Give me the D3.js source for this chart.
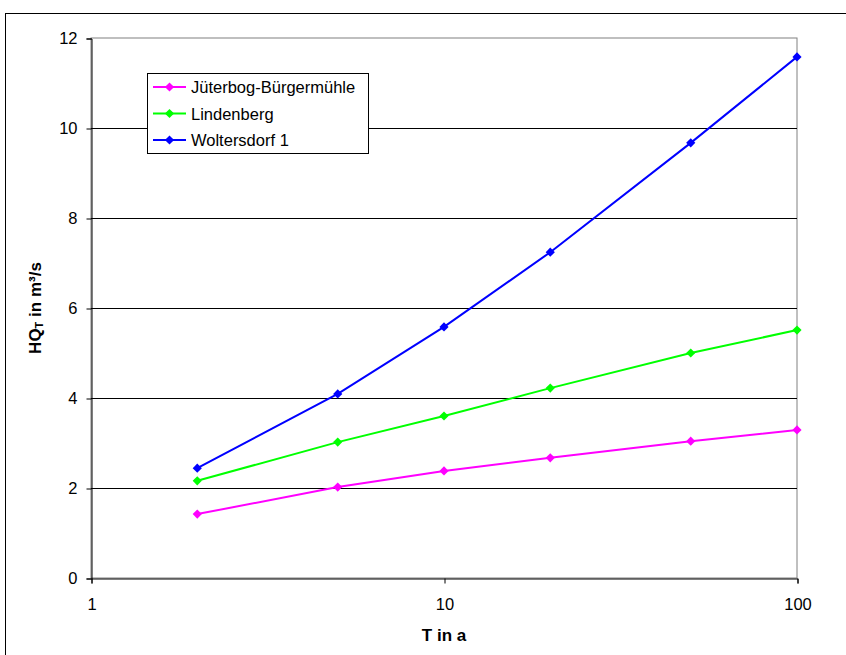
<!DOCTYPE html>
<html><head><meta charset="utf-8">
<script src="https://cdn.jsdelivr.net/npm/d3@7"></script>
<style>body{margin:0;background:#fff}svg{display:block;font-family:"Liberation Sans",Arial,sans-serif}</style>
</head><body><svg id="c" width="846" height="655"></svg>
<script>
const periods = [2, 5, 10, 20, 50, 100];
const jueterbog = [1.42, 2.02, 2.38, 2.67, 3.04, 3.29];
const lindenberg = [2.16, 3.02, 3.60, 4.22, 5.00, 5.51];
const woltersdorf = [2.44, 4.09, 5.58, 7.24, 9.67, 11.58];
const seriesNames = ["Jüterbog-Bürgermühle", "Lindenberg", "Woltersdorf 1"];
const seriesColors = ["#ff00ff", "#00ff00", "#0000ff"];
const xTicks = [1, 10, 100];
const yTicks = [0, 2, 4, 6, 8, 10, 12];

const svg = d3.select("#c");
const L = 91, R = 797, T = 38, B = 578;
const x = d3.scaleLog().domain([1, 100]).range([L, R]);
const y = d3.scaleLinear().domain([0, 12]).range([B, T]);

// outer frame
svg.append("rect").attr("x", 5.5).attr("y", 13.5).attr("width", 900).attr("height", 700)
  .attr("fill", "none").attr("stroke", "#000").attr("stroke-width", 1);

// plot border (gray)
svg.append("rect").attr("x", L).attr("y", T).attr("width", R - L).attr("height", B - T)
  .attr("fill", "none").attr("stroke", "#808080").attr("stroke-width", 1);

// gridlines
svg.append("g").selectAll("line").data(yTicks.filter(d => d > 0 && d < 12)).join("line")
  .attr("x1", L).attr("x2", R).attr("y1", d => Math.round(y(d)) + 0.5).attr("y2", d => Math.round(y(d)) + 0.5)
  .attr("stroke", "#000").attr("stroke-width", 1);

// y axis
const yAxis = svg.append("g").attr("transform", `translate(${L + 0.5},0.5)`)
  .call(d3.axisLeft(y).tickValues(yTicks).tickSize(5).tickPadding(9).tickFormat(d3.format("d")));
yAxis.select(".domain").attr("stroke", "#000");
yAxis.selectAll("text").attr("font-size", 16.5).attr("fill", "#000").attr("font-family", "Liberation Sans, Arial, sans-serif");

// x axis
const xAxis = svg.append("g").attr("transform", `translate(0.5,${B + 0.5})`)
  .call(d3.axisBottom(x).tickValues(xTicks).tickSize(5).tickPadding(15).tickFormat(d3.format("d")));
xAxis.select(".domain").attr("stroke", "#000");
xAxis.selectAll("text").attr("font-size", 16.5).attr("fill", "#000").attr("font-family", "Liberation Sans, Arial, sans-serif");

// titles
svg.append("text").attr("x", (L + R) / 2).attr("y", 641).attr("text-anchor", "middle")
  .attr("font-size", 17).attr("font-weight", "bold").text("T in a");
const yt = svg.append("text").attr("transform", `translate(41,${(T + B) / 2}) rotate(-90)`)
  .attr("text-anchor", "middle").attr("font-size", 17).attr("font-weight", "bold");
yt.append("tspan").text("HQ");
yt.append("tspan").attr("font-size", 11).attr("dy", 2).text("T");
yt.append("tspan").attr("dy", -2).text(" in m³/s");

// series
const data = [jueterbog, lindenberg, woltersdorf];
const line = d3.line().x((d, i) => x(periods[i])).y(d => y(d));
const diamond = d3.symbol().type(d3.symbolSquare).size(42);
data.forEach((vals, k) => {
  svg.append("path").datum(vals).attr("d", line).attr("fill", "none")
    .attr("stroke", seriesColors[k]).attr("stroke-width", 2);
  svg.append("g").selectAll("path").data(vals).join("path")
    .attr("transform", (d, i) => `translate(${x(periods[i])},${y(d)}) rotate(45)`)
    .attr("d", diamond).attr("fill", seriesColors[k]);
});

// legend
const lg = svg.append("g");
lg.append("rect").attr("x", 147.5).attr("y", 73.5).attr("width", 221).attr("height", 80)
  .attr("fill", "#fff").attr("stroke", "#000").attr("stroke-width", 1);
seriesNames.forEach((n, k) => {
  const yy = 87 + k * 26.5;
  lg.append("line").attr("x1", 153).attr("x2", 186).attr("y1", yy).attr("y2", yy)
    .attr("stroke", seriesColors[k]).attr("stroke-width", 2);
  lg.append("path").attr("transform", `translate(169.5,${yy}) rotate(45)`).attr("d", diamond).attr("fill", seriesColors[k]);
  lg.append("text").attr("x", 191).attr("y", yy + 6).attr("font-size", 16.5).text(n);
});
</script></body></html>
